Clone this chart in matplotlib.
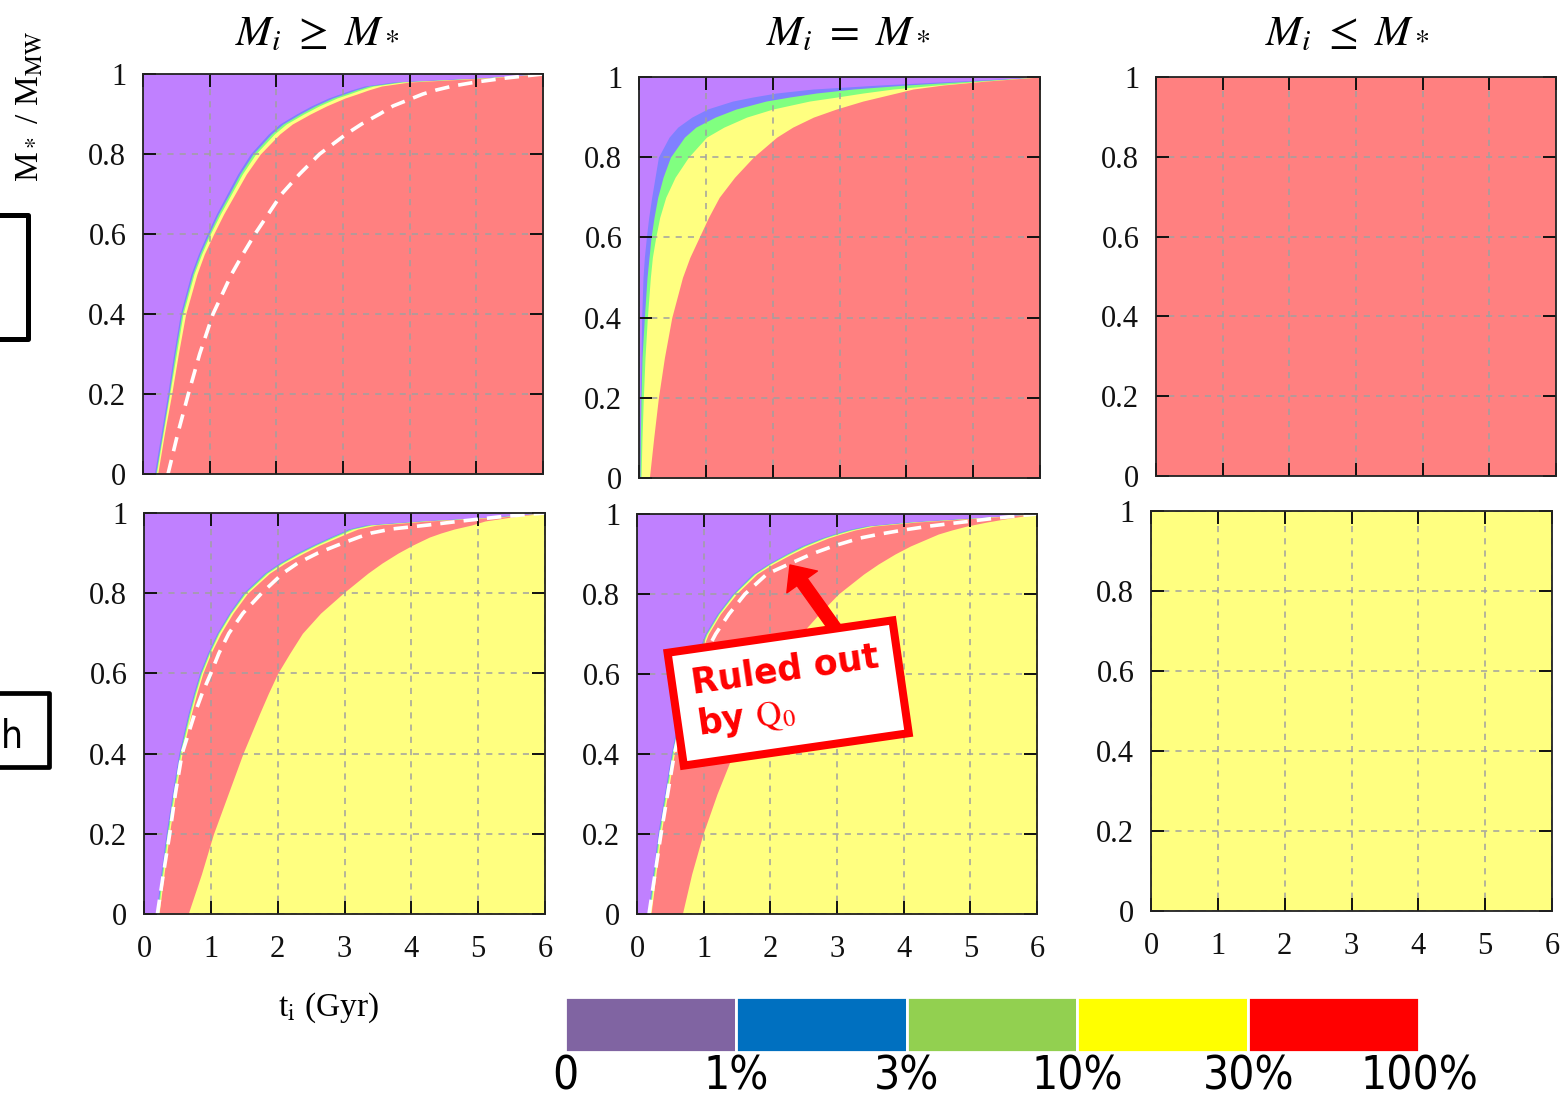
import matplotlib
matplotlib.use('Agg')
import matplotlib.pyplot as plt
from matplotlib.patches import Rectangle

plt.rcParams['font.family'] = ['Liberation Serif', 'DejaVu Serif']
plt.rcParams['mathtext.fontset'] = 'stix'

W, H = 1566, 1101

# mass fraction levels shared by all the boundary curves
y_lev = [0, 0.1, 0.2, 0.3, 0.4, 0.5, 0.55, 0.6, 0.65, 0.7, 0.75, 0.8, 0.85, 0.875,
         0.9, 0.92, 0.94, 0.95, 0.96, 0.97, 0.98, 0.99, 1.0]

# t_i (Gyr) where each colour begins
# top left: M_i >= M_*
p1_blue   = [0.17, 0.27, 0.37, 0.46, 0.56, 0.72, 0.83, 0.96, 1.10, 1.26, 1.42, 1.61, 1.88, 2.05, 2.30, 2.52, 2.78, 2.95, 3.12, 3.32, 3.75, 5.00, 6.0]
p1_green  = [0.19, 0.29, 0.39, 0.48, 0.58, 0.745, 0.855, 0.99, 1.13, 1.295, 1.455, 1.65, 1.925, 2.10, 2.355, 2.58, 2.845, 3.02, 3.19, 3.39, 3.83, 5.05, 6.0]
p1_yellow = [0.20, 0.30, 0.40, 0.50, 0.60, 0.765, 0.88, 1.01, 1.16, 1.325, 1.49, 1.69, 1.97, 2.15, 2.41, 2.64, 2.91, 3.09, 3.26, 3.46, 3.90, 5.10, 6.0]
p1_red    = [0.22, 0.32, 0.43, 0.53, 0.64, 0.81, 0.92, 1.06, 1.21, 1.38, 1.55, 1.76, 2.05, 2.24, 2.51, 2.75, 3.03, 3.21, 3.38, 3.58, 4.00, 5.15, 6.0]
p1_dash   = [0.375, 0.52, 0.68, 0.85, 1.05, 1.33, 1.50, 1.68, 1.88, 2.08, 2.35, 2.65, 3.05, 3.28, 3.55, 3.75, 4.05, 4.20, 4.40, 4.65, 5.00, 5.45, 6.0]

# top middle: M_i = M_*
p2_blue   = [0.00, 0.01, 0.02, 0.03, 0.04, 0.06, 0.08, 0.11, 0.145, 0.19, 0.24, 0.29, 0.45, 0.58, 0.79, 1.02, 1.40, 1.70, 2.05, 2.60, 3.60, 4.80, 6.0]
p2_green  = [0.015, 0.02, 0.03, 0.045, 0.08, 0.12, 0.15, 0.18, 0.225, 0.28, 0.36, 0.47, 0.68, 0.85, 1.14, 1.45, 1.90, 2.25, 2.65, 3.20, 4.00, 5.00, 6.0]
p2_yellow = [0.03, 0.045, 0.065, 0.09, 0.125, 0.17, 0.20, 0.25, 0.31, 0.40, 0.54, 0.74, 1.01, 1.27, 1.61, 2.00, 2.55, 2.96, 3.35, 3.80, 4.45, 5.15, 6.0]
p2_red    = [0.155, 0.22, 0.29, 0.38, 0.49, 0.65, 0.76, 0.90, 1.04, 1.20, 1.43, 1.71, 2.06, 2.30, 2.61, 2.95, 3.35, 3.60, 3.85, 4.10, 4.55, 5.20, 6.0]

# bottom left
p4_blue   = [0.18, 0.25, 0.33, 0.42, 0.52, 0.66, 0.74, 0.83, 0.95, 1.09, 1.27, 1.48, 1.80, 2.02, 2.28, 2.52, 2.78, 2.92, 3.05, 3.30, 4.10, 5.20, 6.0]
p4_green  = [0.195, 0.265, 0.345, 0.435, 0.535, 0.675, 0.755, 0.845, 0.965, 1.105, 1.285, 1.50, 1.82, 2.045, 2.31, 2.55, 2.81, 2.95, 3.09, 3.35, 4.15, 5.25, 6.0]
p4_yellow = [0.21, 0.28, 0.36, 0.45, 0.55, 0.69, 0.77, 0.86, 0.98, 1.12, 1.30, 1.52, 1.845, 2.07, 2.34, 2.58, 2.85, 2.99, 3.13, 3.40, 4.20, 5.30, 6.0]
p4_red    = [0.225, 0.30, 0.38, 0.47, 0.57, 0.71, 0.79, 0.88, 1.00, 1.15, 1.33, 1.55, 1.88, 2.11, 2.39, 2.63, 2.91, 3.05, 3.20, 3.48, 4.25, 5.35, 6.0]
p4_yel2   = [0.66, 0.86, 1.04, 1.26, 1.48, 1.73, 1.86, 2.00, 2.18, 2.37, 2.64, 2.98, 3.35, 3.56, 3.80, 4.02, 4.27, 4.44, 4.64, 4.90, 5.10, 5.50, 6.0]
p4_dash   = [0.20, 0.29, 0.385, 0.47, 0.57, 0.76, 0.87, 1.00, 1.12, 1.27, 1.48, 1.76, 2.08, 2.30, 2.60, 2.90, 3.22, 3.40, 3.70, 4.25, 4.75, 5.30, 6.0]

# bottom middle
p5_blue   = [0.16, 0.235, 0.31, 0.41, 0.51, 0.63, 0.71, 0.80, 0.90, 1.02, 1.20, 1.43, 1.73, 1.96, 2.23, 2.46, 2.76, 2.94, 3.14, 3.42, 4.05, 5.00, 6.0]
p5_green  = [0.175, 0.25, 0.325, 0.425, 0.525, 0.645, 0.725, 0.815, 0.915, 1.035, 1.215, 1.445, 1.75, 1.98, 2.25, 2.49, 2.79, 2.97, 3.18, 3.46, 4.10, 5.05, 6.0]
p5_yellow = [0.19, 0.265, 0.34, 0.44, 0.54, 0.66, 0.74, 0.83, 0.93, 1.05, 1.23, 1.46, 1.77, 2.00, 2.28, 2.52, 2.82, 3.01, 3.22, 3.50, 4.15, 5.10, 6.0]
p5_red    = [0.21, 0.285, 0.36, 0.46, 0.56, 0.68, 0.76, 0.85, 0.95, 1.07, 1.25, 1.49, 1.80, 2.04, 2.32, 2.57, 2.87, 3.06, 3.27, 3.56, 4.20, 5.15, 6.0]
p5_yel2   = [0.68, 0.82, 0.99, 1.20, 1.44, 1.72, 1.89, 2.07, 2.26, 2.46, 2.73, 3.02, 3.40, 3.62, 3.87, 4.10, 4.38, 4.52, 4.72, 4.95, 5.25, 5.60, 6.0]
p5_dash   = [0.18, 0.27, 0.36, 0.46, 0.56, 0.70, 0.79, 0.90, 1.02, 1.18, 1.38, 1.62, 1.95, 2.28, 2.62, 2.95, 3.35, 3.65, 4.00, 4.40, 4.90, 5.40, 6.0]

zero = [0.0] * len(y_lev)

c_purple, c_blue, c_green, c_yellow, c_red = '#C080FF', '#8080FF', '#80FF80', '#FFFF80', '#FF8080'

titles = [r'$M_i\ \geq\ M_*$', r'$M_i\ =\ M_*$', r'$M_i\ \leq\ M_*$']
title_x = [317, 848, 1347]

x_ticks = [0, 1, 2, 3, 4, 5, 6]
y_ticks = [0, 0.2, 0.4, 0.6, 0.8, 1]
y_labels = ['0', '0.2', '0.4', '0.6', '0.8', '1']

legend_labels = ['0', '1%', '3%', '10%', '30%', '100%']
legend_colors = ['#8064A2', '#0070C0', '#92D050', '#FFFF00', '#FF0000']

# axes boxes in pixels: left, top, right, bottom
boxes = [(143, 74, 543, 474), (639, 77, 1040, 478), (1156, 77, 1556, 476),
         (144, 513, 545, 914), (637, 514, 1037, 914), (1151, 511, 1552, 911)]

panels = [
    [(zero, c_purple), (p1_blue, c_blue), (p1_green, c_green), (p1_yellow, c_yellow), (p1_red, c_red)],
    [(zero, c_purple), (p2_blue, c_blue), (p2_green, c_green), (p2_yellow, c_yellow), (p2_red, c_red)],
    [(zero, c_red)],
    [(zero, c_purple), (p4_blue, c_blue), (p4_green, c_green), (p4_yellow, c_yellow), (p4_red, c_red), (p4_yel2, c_yellow)],
    [(zero, c_purple), (p5_blue, c_blue), (p5_green, c_green), (p5_yellow, c_yellow), (p5_red, c_red), (p5_yel2, c_yellow)],
    [(zero, c_yellow)],
]
dashes = [p1_dash, None, None, p4_dash, p5_dash, None]

fig = plt.figure(figsize=(W / 100, H / 100), dpi=100)

axes = []
for i, (l, t, r, b) in enumerate(boxes):
    ax = fig.add_axes([l / W, 1 - b / H, (r - l) / W, (b - t) / H])
    for left, col in panels[i]:
        ax.fill_betweenx(y_lev, left, 6, color=col, lw=0, zorder=1)
    if dashes[i] is not None:
        ax.plot(dashes[i], y_lev, color='white', lw=2.6, dashes=(4, 2.5), zorder=3)
    ax.set_xlim(0, 6)
    ax.set_ylim(0, 1)
    ax.set_xticks(x_ticks)
    ax.set_yticks(y_ticks)
    ax.set_yticklabels(y_labels)
    if i < 3:
        ax.set_xticklabels([])
    ax.grid(True, color='#A0A0A0', ls=(0, (4, 4)), lw=1.1, zorder=2)
    ax.set_axisbelow(False)
    ax.tick_params(direction='in', length=9.5, width=1.4, top=True, right=True,
                   labelsize=22, colors='#111111')
    ax.tick_params(axis='y', pad=12)
    ax.tick_params(axis='x', pad=15)
    for sp in ax.spines.values():
        sp.set_linewidth(1.3)
        sp.set_color('#222222')
        sp.set_zorder(5)
    axes.append(ax)

for tx, tt in zip(title_x, titles):
    fig.text(tx / W, 1 - 45 / H, tt, ha='center', va='baseline', fontsize=31)

fig.text(30 / W, 1 - 107 / H, r'M$_*$ / M$_{\rm MW}$', rotation=90,
         ha='center', va='center', fontsize=24)
fig.text(328 / W, 1 - 1008 / H, r't$_{\rm i}$ (Gyr)', ha='center', va='center', fontsize=24)

# colour key
lax = fig.add_axes([565 / W, 1 - 1052 / H, 854 / W, 55 / H])
lax.bar(range(len(legend_colors)), [1] * len(legend_colors), width=1, align='edge',
        color=legend_colors, edgecolor='white', linewidth=2)
lax.set_xlim(0, len(legend_colors))
lax.set_ylim(0, 1)
lax.set_yticks([])
lax.set_xticks(range(len(legend_labels)))
lax.set_xticklabels(legend_labels, family='DejaVu Sans', stretch='condensed', fontsize=33)
lax.tick_params(axis='x', length=0, pad=2)
for sp in lax.spines.values():
    sp.set_visible(False)

# "Ruled out" callout in the bottom middle panel
ax5 = axes[4]
ax5.annotate('', xy=(2.295, 0.8725), xytext=(2.97, 0.715),
             arrowprops=dict(arrowstyle='simple,head_length=0.75,head_width=1.35,tail_width=0.45',
                             color='#FF0000', mutation_scale=20, shrinkA=0, shrinkB=0),
             zorder=6)
ax5.text(2.265, 0.555, 'Ruled out\nby $\\mathrm{Q}_0$', rotation=8.2, rotation_mode='anchor',
         ha='center', va='center', ma='left', color='#FF0000', fontsize=25,
         family='DejaVu Sans', weight='bold', zorder=7,
         bbox=dict(boxstyle='square,pad=0.55', fc='white', ec='#FF0000', lw=5.8))

# cut-off label boxes at the left edge
fig.add_artist(Rectangle((-40 / W, 1 - 339 / H), 68 / W, 124 / H, transform=fig.transFigure,
                         fill=False, ec='black', lw=3.6, joinstyle='round'))
fig.add_artist(Rectangle((-40 / W, 1 - 767 / H), 89 / W, 74 / H, transform=fig.transFigure,
                         fill=False, ec='black', lw=3.4, joinstyle='round'))
fig.text(1 / W, 1 - 748 / H, 'h', ha='left', va='baseline', fontsize=28,
         family='DejaVu Sans', stretch='condensed')

fig.savefig('out.png', dpi=100)
